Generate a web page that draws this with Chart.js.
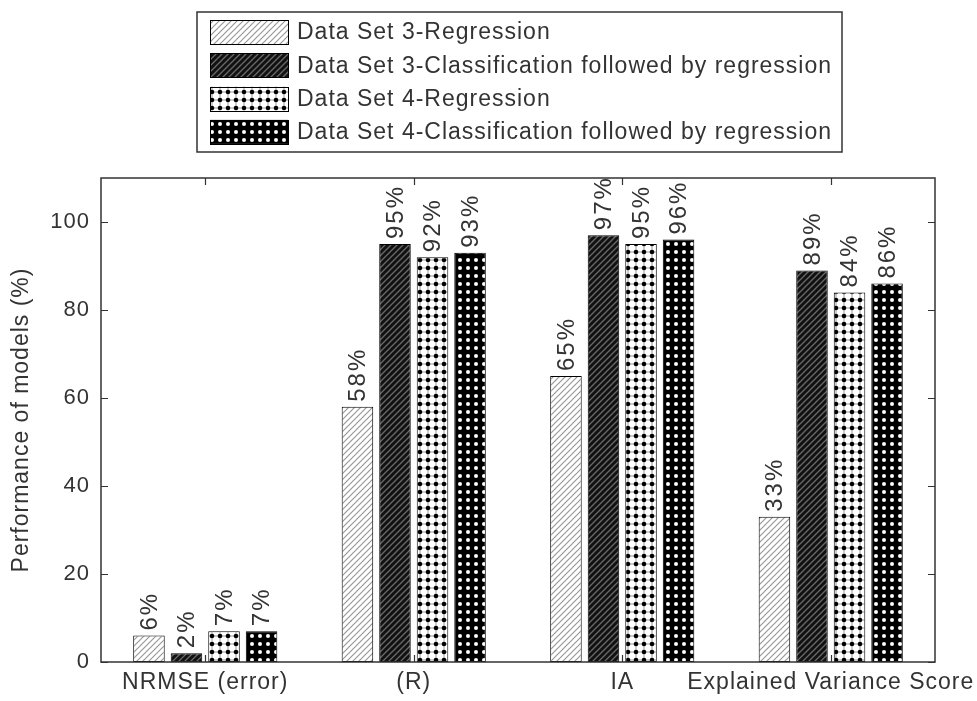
<!DOCTYPE html>
<html>
<head>
<meta charset="utf-8">
<script src="https://cdn.jsdelivr.net/npm/chart.js@4/dist/chart.umd.min.js"></script>
<style>
  html, body { margin: 0; padding: 0; background: #ffffff; }
  canvas { display: block; }
</style>
</head>
<body>
<canvas id="c" width="977" height="701"></canvas>
<script>
// ---- data ----
const categories = ['NRMSE (error)', '(R)', 'IA', 'Explained Variance Score'];
const seriesNames = [
  'Data Set 3-Regression',
  'Data Set 3-Classification followed by regression',
  'Data Set 4-Regression',
  'Data Set 4-Classification followed by regression'
];
const ds3Regression     = [6, 58, 65, 33];
const ds3Classification = [2, 95, 97, 89];
const ds4Regression     = [7, 92, 95, 84];
const ds4Classification = [7, 93, 96, 86];
const yTicks = [0, 20, 40, 60, 80, 100];
const yTitle = 'Performance of models (%)';

// ---- patterns ----
function makeCanvas(s) { const c = document.createElement('canvas'); c.width = s; c.height = s; return c; }
function hatch(bg, fg, s, lw) {
  const c = makeCanvas(s), g = c.getContext('2d');
  g.fillStyle = bg; g.fillRect(0, 0, s, s);
  g.strokeStyle = fg; g.lineWidth = lw;
  g.beginPath();
  g.moveTo(0, s); g.lineTo(s, 0);
  g.moveTo(-s/2, s/2); g.lineTo(s/2, -s/2);
  g.moveTo(s/2, s*1.5); g.lineTo(s*1.5, s/2);
  g.stroke();
  return g.createPattern(c, 'repeat');
}
function dotsOnWhite(s) {
  const c = makeCanvas(s), g = c.getContext('2d');
  g.fillStyle = '#ffffff'; g.fillRect(0, 0, s, s);
  g.strokeStyle = '#9a9a9a'; g.lineWidth = 1;
  g.beginPath(); g.moveTo(s/2, 0); g.lineTo(s/2, s); g.moveTo(0, s/2); g.lineTo(s, s/2); g.stroke();
  g.fillStyle = '#000000';
  g.beginPath(); g.arc(s/2, s/2, 2.3, 0, Math.PI*2); g.fill();
  return g.createPattern(c, 'repeat');
}
function dotsOnBlack(s) {
  const c = makeCanvas(s), g = c.getContext('2d');
  g.fillStyle = '#000000'; g.fillRect(0, 0, s, s);
  g.fillStyle = '#ffffff';
  g.beginPath(); g.arc(s/2, s/2, 2.0, 0, Math.PI*2); g.fill();
  return g.createPattern(c, 'repeat');
}
const fills = [
  hatch('#ffffff', '#999999', 6, 1.2),
  hatch('#111111', '#6a6a6a', 6, 1.3),
  dotsOnWhite(8),
  dotsOnBlack(8)
];

const seriesValues = [ds3Regression, ds3Classification, ds4Regression, ds4Classification];
const FONT = 'Liberation Sans, Arial, sans-serif';
const TXT = '#333333';

// ---- plugins ----
const frameAndLabels = {
  id: 'frameAndLabels',
  beforeDraw(chart) {
    chart.ctx.letterSpacing = '1px';
  },
  afterDatasetsDraw(chart) {
    const ctx = chart.ctx;
    ctx.save();
    ctx.fillStyle = TXT;
    ctx.font = '24px ' + FONT;
    ctx.letterSpacing = '2px';
    chart.data.datasets.forEach((ds, di) => {
      const meta = chart.getDatasetMeta(di);
      meta.data.forEach((bar, i) => {
        ctx.save();
        ctx.translate(bar.x, bar.y - 5);
        ctx.rotate(-Math.PI / 2);
        ctx.textAlign = 'left';
        ctx.textBaseline = 'middle';
        ctx.fillText(ds.data[i] + '%', 0, 1);
        ctx.restore();
      });
    });
    ctx.restore();
  },
  afterDraw(chart) {
    const ctx = chart.ctx, a = chart.chartArea;
    const ys = chart.scales.y, xs = chart.scales.x;
    ctx.save();
    ctx.strokeStyle = '#333333';
    ctx.lineWidth = 1.5;
    ctx.strokeRect(a.left, a.top, a.right - a.left, a.bottom - a.top);
    ctx.lineWidth = 1.2;
    ctx.beginPath();
    yTicks.forEach(v => {
      const y = Math.round(ys.getPixelForValue(v)) + 0.5;
      ctx.moveTo(a.left, y); ctx.lineTo(a.left + 7, y);
      ctx.moveTo(a.right, y); ctx.lineTo(a.right - 7, y);
    });
    categories.forEach((c, i) => {
      const x = Math.round(xs.getPixelForValue(i)) + 0.5;
      ctx.moveTo(x, a.top); ctx.lineTo(x, a.top + 7);
      ctx.moveTo(x, a.bottom); ctx.lineTo(x, a.bottom - 7);
    });
    ctx.stroke();

    // legend box
    const bx = 197, by = 12, bw = 645, bh = 140;
    ctx.fillStyle = '#ffffff';
    ctx.fillRect(bx, by, bw, bh);
    ctx.strokeStyle = '#333333';
    ctx.lineWidth = 1.5;
    ctx.strokeRect(bx, by, bw, bh);
    ctx.font = '23px ' + FONT;
    ctx.letterSpacing = '1px';
    ctx.textAlign = 'left';
    ctx.textBaseline = 'middle';
    chart.data.datasets.forEach((ds, i) => {
      const sy = 20 + i * 33.3;
      ctx.fillStyle = ds.backgroundColor;
      ctx.fillRect(210, sy, 78, 24);
      ctx.strokeStyle = '#000000';
      ctx.lineWidth = 1;
      ctx.strokeRect(210.5, Math.round(sy) + 0.5, 78, 24);
      ctx.fillStyle = TXT;
      ctx.fillText(ds.label, 297, sy + 13);
    });
    ctx.restore();
  }
};

const chart = new Chart(document.getElementById('c'), {
  type: 'bar',
  data: {
    labels: categories,
    datasets: seriesValues.map((vals, i) => ({
      label: seriesNames[i],
      data: vals,
      backgroundColor: fills[i],
      borderColor: '#000000',
      borderWidth: 1,
      borderSkipped: false,
      categoryPercentage: 0.72,
      barPercentage: 0.84
    }))
  },
  options: {
    responsive: false,
    animation: false,
    devicePixelRatio: 1,
    layout: { padding: { top: 178, right: 42, left: 0, bottom: 0 } },
    plugins: {
      legend: { display: false },
      tooltip: { enabled: false }
    },
    scales: {
      x: {
        grid: { display: false, drawTicks: false },
        border: { display: false },
        ticks: { color: TXT, font: { family: FONT, size: 23 }, padding: 7, maxRotation: 0, autoSkip: false },
        afterFit(scale) { scale.height = 39; }
      },
      y: {
        min: 0,
        max: 110,
        afterBuildTicks(scale) { scale.ticks = yTicks.map(v => ({ value: v })); },
        grid: { display: false, drawTicks: false },
        border: { display: false },
        ticks: { color: TXT, font: { family: FONT, size: 22 }, padding: 11 },
        title: { display: true, text: yTitle, color: TXT, font: { family: FONT, size: 23 }, padding: { top: 8, bottom: 0 } },
        afterFit(scale) { scale.width = 101; }
      }
    }
  },
  plugins: [frameAndLabels]
});
</script>
</body>
</html>
